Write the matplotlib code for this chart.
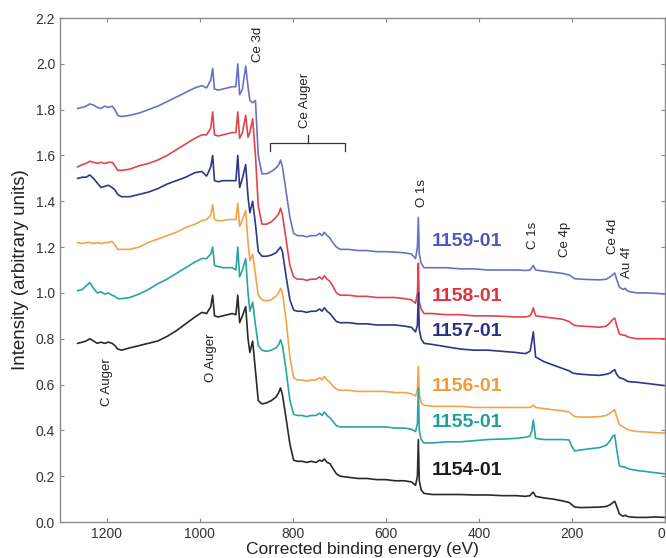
import matplotlib
matplotlib.use("Agg")
import matplotlib.pyplot as plt

plt.rcParams['font.family'] = ['Liberation Sans', 'DejaVu Sans']

# ---------------- data ----------------
energy = [1262, 1252, 1244, 1236, 1228, 1220, 1212, 1204, 1196, 1188, 1182, 1176, 1168,
          1150, 1130, 1110, 1090, 1070, 1050, 1030, 1010, 995, 985,
          976, 972, 968, 960, 950, 940, 930, 922,
          918, 914, 908, 901, 896, 892, 886, 880, 874,
          866, 856, 846, 836, 830, 826, 822, 814, 806, 798, 790,
          780, 770, 760, 750, 742, 737, 732, 726, 720, 714, 706, 698, 680, 660, 640, 620, 600, 580, 560, 545,
          536, 532, 530, 528, 524, 518,
          500, 470, 440, 410, 380, 350, 320, 300, 290, 286, 283, 278, 260, 240, 220, 206, 200, 194, 180, 160, 140, 126,
          118, 112, 108, 104, 98, 90, 85, 82, 75, 60, 40, 20, 0]

s1159 = [1.805, 1.81, 1.815, 1.825, 1.82, 1.81, 1.805, 1.815, 1.81, 1.815, 1.80, 1.775, 1.77,
         1.775, 1.785, 1.80, 1.815, 1.835, 1.855, 1.875, 1.895, 1.905, 1.895,
         1.93, 1.98, 1.89, 1.885, 1.89, 1.895, 1.90, 1.90,
         2.00, 1.865, 1.89, 1.99, 1.90, 1.84, 1.83, 1.84, 1.60,
         1.52, 1.52, 1.53, 1.545, 1.56, 1.58, 1.55, 1.44, 1.33, 1.26, 1.25,
         1.25, 1.245, 1.25, 1.25, 1.26, 1.25, 1.265, 1.25, 1.24, 1.22, 1.20, 1.19, 1.19, 1.185, 1.185, 1.18, 1.18, 1.178, 1.175, 1.17,
         1.15, 1.20, 1.33, 1.17, 1.13, 1.11,
         1.11, 1.11, 1.105, 1.105, 1.10, 1.10, 1.10, 1.098, 1.10, 1.11, 1.12, 1.10, 1.095, 1.09, 1.085, 1.078, 1.07, 1.062, 1.06, 1.058, 1.057, 1.06,
         1.07, 1.08, 1.087, 1.06, 1.025, 1.015, 1.02, 1.01, 1.005, 1.0, 1.0, 0.998, 0.995]

s1158 = [1.55, 1.56, 1.565, 1.575, 1.57, 1.565, 1.57, 1.565, 1.57, 1.57, 1.555, 1.535, 1.535,
         1.54, 1.555, 1.565, 1.58, 1.60, 1.625, 1.65, 1.675, 1.69, 1.69,
         1.72, 1.79, 1.69, 1.685, 1.69, 1.695, 1.70, 1.70,
         1.79, 1.675, 1.70, 1.775, 1.68, 1.70, 1.76, 1.60, 1.38,
         1.30, 1.30, 1.31, 1.33, 1.345, 1.37, 1.34, 1.23, 1.12, 1.07, 1.06,
         1.06, 1.055, 1.06, 1.06, 1.07, 1.06, 1.075, 1.06, 1.05, 1.03, 1.00, 0.99, 0.99, 0.985, 0.985, 0.98, 0.98, 0.98, 0.975, 0.97,
         0.955, 1.00, 1.13, 0.96, 0.93, 0.91,
         0.91, 0.905, 0.905, 0.90, 0.90, 0.898, 0.895, 0.895, 0.90, 0.915, 0.935, 0.90, 0.895, 0.89, 0.885, 0.875, 0.865, 0.858, 0.855, 0.853, 0.85, 0.855,
         0.87, 0.885, 0.89, 0.86, 0.82, 0.815, 0.815, 0.81, 0.805, 0.80, 0.80, 0.80, 0.80]

s1157 = [1.50, 1.505, 1.505, 1.515, 1.50, 1.48, 1.46, 1.465, 1.47, 1.46, 1.45, 1.43, 1.42,
         1.42, 1.43, 1.44, 1.455, 1.475, 1.49, 1.505, 1.525, 1.53, 1.51,
         1.55, 1.60, 1.49, 1.485, 1.49, 1.49, 1.49, 1.49,
         1.60, 1.46, 1.50, 1.56, 1.42, 1.35, 1.40, 1.30, 1.18,
         1.16, 1.16, 1.165, 1.175, 1.19, 1.20, 1.18, 1.07, 0.97, 0.925, 0.92,
         0.92, 0.915, 0.92, 0.92, 0.93, 0.92, 0.935, 0.92, 0.91, 0.895, 0.875, 0.87, 0.87, 0.865, 0.865, 0.86, 0.86, 0.86, 0.855, 0.85,
         0.83, 0.86, 1.00, 0.84, 0.80, 0.78,
         0.775, 0.765, 0.755, 0.75, 0.75, 0.745, 0.74, 0.735, 0.745, 0.79, 0.83, 0.72, 0.70, 0.685, 0.67, 0.66, 0.652, 0.648, 0.645, 0.642, 0.64, 0.645,
         0.65, 0.66, 0.665, 0.645, 0.63, 0.625, 0.62, 0.615, 0.612, 0.61, 0.605, 0.60, 0.595]

s1156 = [1.22, 1.215, 1.22, 1.22, 1.215, 1.22, 1.215, 1.22, 1.22, 1.225, 1.21, 1.19, 1.19,
         1.19, 1.20, 1.22, 1.235, 1.25, 1.265, 1.285, 1.30, 1.315, 1.32,
         1.34, 1.385, 1.32, 1.315, 1.315, 1.32, 1.32, 1.32,
         1.39, 1.29, 1.32, 1.36, 1.22, 1.14, 1.17, 1.08, 0.99,
         0.97, 0.965, 0.97, 0.985, 1.00, 1.02, 1.00, 0.88, 0.72, 0.63, 0.62,
         0.62, 0.615, 0.62, 0.62, 0.63, 0.62, 0.635, 0.62, 0.61, 0.595, 0.58, 0.575, 0.575, 0.57, 0.57, 0.57, 0.57, 0.565, 0.565, 0.56,
         0.55, 0.58, 0.68, 0.56, 0.52, 0.51,
         0.505, 0.505, 0.505, 0.50, 0.50, 0.50, 0.50, 0.50, 0.50, 0.505, 0.51, 0.50, 0.495, 0.49, 0.485, 0.48, 0.47, 0.46, 0.458, 0.458, 0.46, 0.465,
         0.475, 0.485, 0.49, 0.46, 0.425, 0.415, 0.41, 0.405, 0.40, 0.395, 0.393, 0.39, 0.388]

s1155 = [1.01, 1.015, 1.03, 1.045, 1.02, 1.00, 1.005, 0.995, 1.00, 0.99, 0.985, 0.975, 0.975,
         0.98, 0.995, 1.015, 1.04, 1.06, 1.085, 1.11, 1.135, 1.15, 1.15,
         1.17, 1.20, 1.12, 1.115, 1.11, 1.11, 1.11, 1.10,
         1.20, 1.07, 1.10, 1.15, 1.00, 0.92, 0.96, 0.86, 0.77,
         0.75, 0.745, 0.75, 0.76, 0.775, 0.795, 0.77, 0.66, 0.53, 0.47, 0.465,
         0.465, 0.46, 0.465, 0.465, 0.475, 0.465, 0.48, 0.465, 0.455, 0.44, 0.42, 0.415, 0.415, 0.415, 0.415, 0.415, 0.415, 0.41, 0.41, 0.405,
         0.395, 0.43, 0.585, 0.40, 0.36, 0.345,
         0.345, 0.35, 0.35, 0.355, 0.36, 0.362, 0.365, 0.37, 0.375, 0.40, 0.445, 0.365, 0.36, 0.36, 0.36, 0.358, 0.33, 0.31, 0.315, 0.32, 0.325, 0.335,
         0.355, 0.375, 0.38, 0.32, 0.245, 0.24, 0.24, 0.235, 0.23, 0.225, 0.22, 0.215, 0.21]

s1154 = [0.78, 0.785, 0.79, 0.80, 0.79, 0.78, 0.785, 0.78, 0.785, 0.78, 0.77, 0.755, 0.75,
         0.76, 0.77, 0.78, 0.79, 0.81, 0.835, 0.865, 0.895, 0.915, 0.91,
         0.94, 0.99, 0.90, 0.895, 0.90, 0.905, 0.91, 0.905,
         0.99, 0.87, 0.90, 0.94, 0.80, 0.74, 0.79, 0.66, 0.53,
         0.515, 0.52, 0.53, 0.545, 0.565, 0.585, 0.555, 0.45, 0.34, 0.27, 0.265,
         0.265, 0.26, 0.265, 0.26, 0.27, 0.265, 0.275, 0.26, 0.255, 0.235, 0.21, 0.20, 0.195, 0.19, 0.19, 0.185, 0.185, 0.18, 0.18, 0.175,
         0.16, 0.20, 0.36, 0.18, 0.14, 0.125,
         0.12, 0.12, 0.12, 0.118, 0.118, 0.115, 0.115, 0.112, 0.115, 0.125, 0.13, 0.112, 0.105, 0.10, 0.092, 0.085, 0.075, 0.065, 0.063, 0.064, 0.065, 0.068,
         0.075, 0.085, 0.09, 0.07, 0.035, 0.025, 0.03, 0.025, 0.022, 0.02, 0.02, 0.022, 0.02]

sample_names = ["1159-01", "1158-01", "1157-01", "1156-01", "1155-01", "1154-01"]
series = [s1159, s1158, s1157, s1156, s1155, s1154]
line_colors = ["#6b70c6", "#e2444c", "#2f3588", "#f5a24c", "#27a5a2", "#2a2a2a"]
label_colors = ["#4d56bb", "#e0313b", "#2a3083", "#f39a35", "#1f9e9b", "#1a1a1a"]
label_y = [1.225, 0.985, 0.83, 0.59, 0.435, 0.225]
label_x = 502

peak_labels = ["C Auger", "O Auger", "Ce 3d", "O 1s", "C 1s", "Ce 4p", "Ce 4d", "Au 4f"]
peak_x = [1198, 975, 875, 523, 284, 215, 112, 81]
peak_y = [0.505, 0.61, 2.01, 1.375, 1.19, 1.155, 1.17, 1.065]

xticks = [1200, 1000, 800, 600, 400, 200, 0]
yticks = [0.0, 0.2, 0.4, 0.6, 0.8, 1.0, 1.2, 1.4, 1.6, 1.8, 2.0, 2.2]

for s in series:
    assert len(s) == len(energy), len(s)

# ---------------- figure ----------------
fig = plt.figure(figsize=(6.66, 5.58), dpi=100)
ax = fig.add_axes([60 / 666, 36 / 558, 605 / 666, 504 / 558])

for s, c in zip(series, line_colors):
    ax.plot(energy, s, color=c, lw=1.2, solid_joinstyle='round')

for name, c, y in zip(sample_names, label_colors, label_y):
    ax.text(label_x, y, name, color=c, fontsize=14, fontweight='bold',
            ha='left', va='center')

for t, x, y in zip(peak_labels, peak_x, peak_y):
    ax.text(x, y, t, rotation=90, fontsize=9.5, ha='center', va='bottom', color='#222222')

# Ce Auger bracket
bx0, bx1, bxm = 849, 688, 768
by, bdrop, brise = 1.655, 0.035, 0.035
ax.plot([bx0, bx0, bx1, bx1], [by - bdrop, by, by, by - bdrop], color='#333333', lw=0.9)
ax.plot([bxm, bxm], [by, by + brise], color='#333333', lw=0.9)
ax.text(bxm + 5, by + brise + 0.03, "Ce Auger", rotation=90, fontsize=9.5,
        ha='center', va='bottom', color='#222222')

ax.set_xlim(1300, 0)
ax.set_ylim(0, 2.2)
ax.set_xticks(xticks)
ax.set_yticks(yticks)
ax.set_yticklabels([f"{v:.1f}" for v in yticks])
ax.tick_params(direction='in', top=True, right=True, length=3, width=0.8,
               color='#888888', labelsize=10, labelcolor='#333333')
ax.get_xticklabels()[-1].set_horizontalalignment('right')
for sp in ax.spines.values():
    sp.set_color('#8a8a8a')
    sp.set_linewidth(1.0)

ax.set_xlabel("Corrected binding energy (eV)", fontsize=12.5, color='#222222', labelpad=0.5)
ax.set_ylabel("Intensity (arbitrary units)", fontsize=13.5, color='#222222', labelpad=5)

fig.savefig("out.png", dpi=100)
